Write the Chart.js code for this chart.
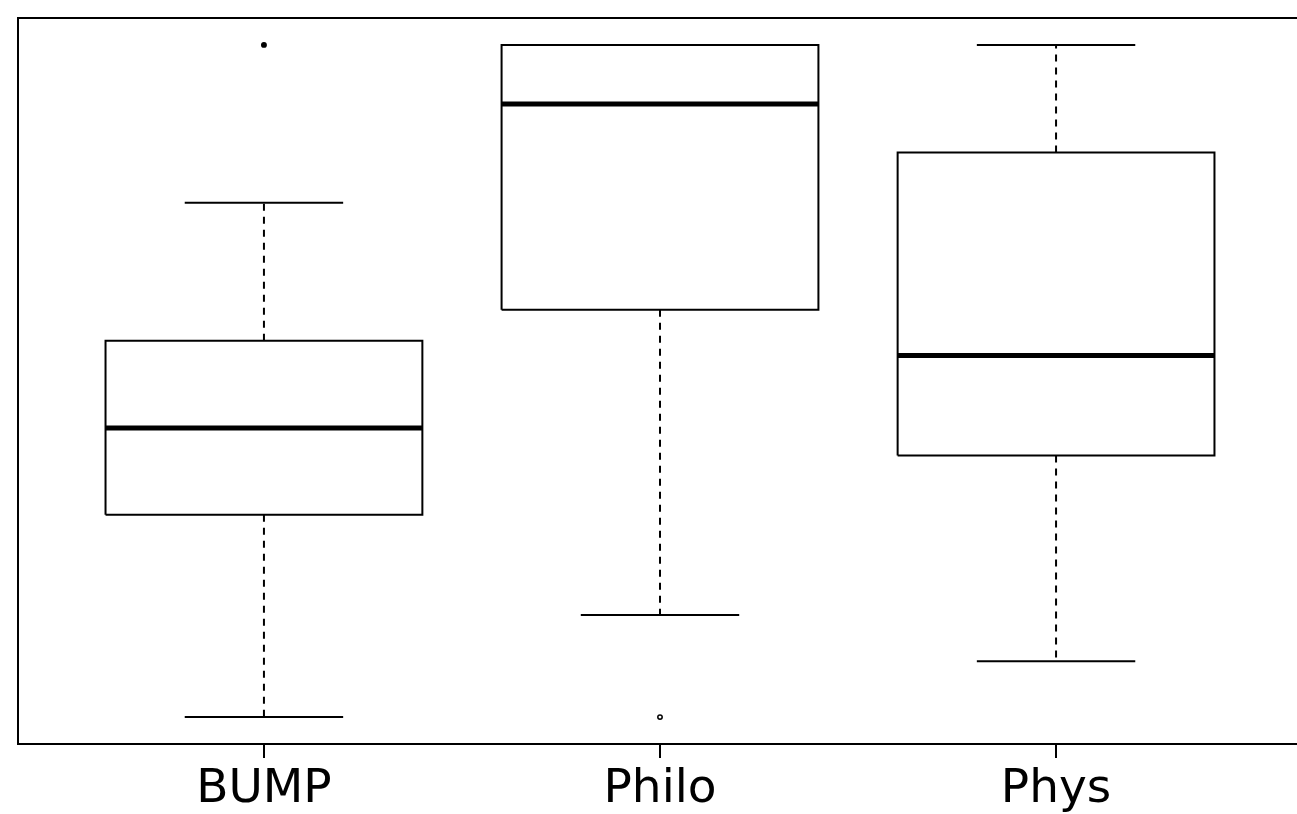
<!DOCTYPE html>
<html>
<head>
<meta charset="utf-8">
<script src="https://cdn.jsdelivr.net/npm/chart.js@4"></script>
<style>
  html, body { margin: 0; padding: 0; background: #fff; overflow: hidden; }
  canvas { display: block; }
</style>
</head>
<body>
<canvas id="grafico" width="1310" height="814"></canvas>
<script>
// dados do boxplot (escala arbitraria, o eixo y nao tem rotulos)
const categorias = ['BUMP', 'Philo', 'Phys'];
const bigodeInf = [0, 15.2, 8.3];
const q1 = [30.1, 60.6, 38.9];
const medianas = [43.0, 91.2, 53.8];
const q3 = [56.0, 100, 84.0];
const bigodeSup = [76.5, 100, 100];
const outliers = [[100], [0], []];

const meiaCaixa = 0.4;
const meiaHaste = 0.2;

function linha(pontos, opts) {
  return Object.assign({
    type: 'line',
    data: pontos,
    borderColor: '#000',
    borderWidth: 2,
    pointRadius: 0,
    fill: false,
    tension: 0,
    clip: false
  }, opts || {});
}

const datasets = [];
categorias.forEach((c, i) => {
  const x = i + 1;
  // caixa
  datasets.push(linha([
    { x: x - meiaCaixa, y: q1[i] }, { x: x + meiaCaixa, y: q1[i] },
    { x: x + meiaCaixa, y: q3[i] }, { x: x - meiaCaixa, y: q3[i] },
    { x: x - meiaCaixa, y: q1[i] }
  ]));
  // mediana
  datasets.push(linha([{ x: x - meiaCaixa, y: medianas[i] }, { x: x + meiaCaixa, y: medianas[i] }], { borderWidth: 5 }));
  // bigodes tracejados
  datasets.push(linha([{ x, y: q1[i] }, { x, y: bigodeInf[i] }], { borderDash: [7, 6] }));
  datasets.push(linha([{ x, y: q3[i] }, { x, y: bigodeSup[i] }], { borderDash: [7, 6] }));
  // hastes
  datasets.push(linha([{ x: x - meiaHaste, y: bigodeInf[i] }, { x: x + meiaHaste, y: bigodeInf[i] }]));
  datasets.push(linha([{ x: x - meiaHaste, y: bigodeSup[i] }, { x: x + meiaHaste, y: bigodeSup[i] }]));
  // outliers
  if (outliers[i].length) {
    datasets.push({
      type: 'scatter',
      data: outliers[i].map(v => ({ x, y: v })),
      pointRadius: 2.2,
      pointBorderWidth: 1.5,
      pointBorderColor: '#000',
      pointBackgroundColor: i === 0 ? '#000' : '#fff',
      clip: false
    });
  }
});

const moldura = {
  id: 'moldura',
  afterDraw(chart) {
    const { ctx, chartArea: a } = chart;
    ctx.save();
    ctx.strokeStyle = '#000';
    ctx.lineWidth = 2;
    ctx.strokeRect(a.left, a.top, a.right - a.left, a.bottom - a.top);
    ctx.restore();
  }
};

new Chart(document.getElementById('grafico'), {
  type: 'scatter',
  data: { datasets },
  plugins: [moldura],
  options: {
    responsive: false,
    animation: false,
    devicePixelRatio: 1,
    layout: { padding: { left: 18, top: 18, right: 8, bottom: 0 } },
    plugins: { legend: { display: false }, tooltip: { enabled: false } },
    scales: {
      x: {
        type: 'linear',
        min: 0.379,
        max: 3.621,
        afterBuildTicks: s => { s.ticks = categorias.map((c, i) => ({ value: i + 1 })); },
        afterFit: s => { s.height = 70; },
        ticks: {
          callback: v => categorias[v - 1] || '',
          color: '#000',
          font: { family: 'DejaVu Sans', size: 47 },
          padding: 4,
          maxRotation: 0,
          autoSkip: false
        },
        grid: { drawOnChartArea: false, drawTicks: true, tickLength: 14, color: '#000', lineWidth: 2 },
        border: { display: false }
      },
      y: {
        display: false,
        min: -4,
        max: 104
      }
    }
  }
});
</script>
</body>
</html>
